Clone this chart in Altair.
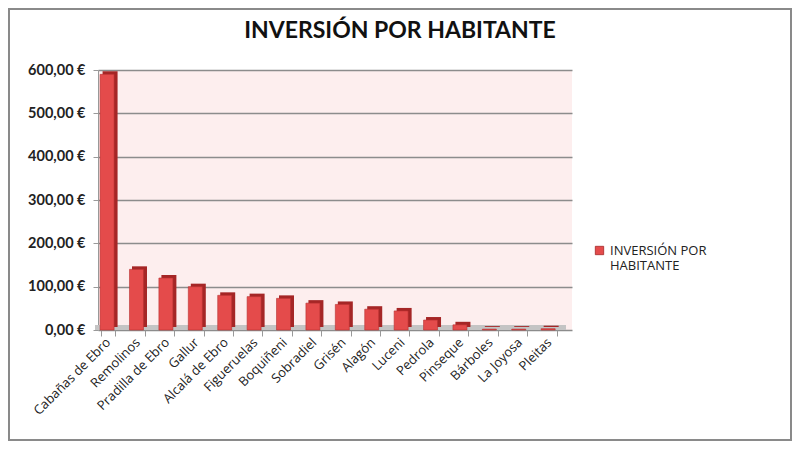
import altair as alt
import pandas as pd

municipios = ["Cabañas de Ebro", "Remolinos", "Pradilla de Ebro", "Gallur", "Alcalá de Ebro",
              "Figueruelas", "Boquiñeni", "Sobradiel", "Grisén", "Alagón", "Luceni",
              "Pedrola", "Pinseque", "Bárboles", "La Joyosa", "Pleitas"]
inversion = [590, 140, 120, 100, 80, 77, 73, 62, 59, 48, 44, 23, 12, 2, 2, 3]
serie = "INVERSIÓN POR HABITANTE"

df = pd.DataFrame({"municipio": municipios, "valor": inversion, "serie": serie})

W, H = 474, 260

x = alt.X("municipio:N", sort=municipios, title=None,
          scale=alt.Scale(paddingInner=0.5, paddingOuter=0.31, align=0.15),
          axis=alt.Axis(labelAngle=-45, labelAlign="right", labelBaseline="middle",
                        labelFont="Open Sans", labelFontSize=13, labelColor="#222",
                        labelPadding=4, domain=False, ticks=True, tickBand="extent",
                        tickColor="#999", tickSize=6, grid=False))
y = alt.Y("valor:Q", title=None,
          scale=alt.Scale(domain=[0, 600], nice=False),
          axis=alt.Axis(values=[0, 100, 200, 300, 400, 500, 600],
                        labelExpr="replace(format(datum.value, '.2f'), '.', ',') + ' €'",
                        labelFont="Lato", labelFontWeight="bold", labelFontSize=14.5,
                        labelColor="#222", labelPadding=8, domain=True, domainColor="#999",
                        ticks=True, tickColor="#999", tickSize=5,
                        grid=True, gridColor="#8c8c8c", gridWidth=1.4))

side = alt.Chart(df).mark_bar(size=15, xOffset=2, yOffset=-3, color="#a52626").encode(
    x=x, y=y)
front = alt.Chart(df).mark_bar(size=14, xOffset=-1, stroke="#b83030", strokeWidth=0.6).encode(
    x=x, y=y,
    color=alt.Color("serie:N", scale=alt.Scale(range=["#e44b4b"]), title=None,
                    legend=alt.Legend(orient="none", legendX=W + 21, legendY=174,
                                      symbolType="square", symbolSize=70,
                                      symbolStrokeColor="#a52626", symbolStrokeWidth=0.8,
                                      labelFont="Open Sans", labelFontSize=13,
                                      labelColor="#222", labelLimit=300,
                                      labelExpr="['INVERSIÓN POR', 'HABITANTE']")))

floor = alt.Chart(df).mark_rect(color="#c4c4c4").encode(
    x=alt.value(-3), x2=alt.value(W - 6), y=alt.value(H - 5), y2=alt.value(H))
border = alt.Chart(df).mark_rect(fill=None, stroke="#8a8a8a", strokeWidth=1.2).encode(
    x=alt.value(-89), x2=alt.value(W + 219), y=alt.value(-61), y2=alt.value(H + 110))
title = alt.Chart(pd.DataFrame({"t": [serie]})).mark_text(
    font="Lato", fontSize=23, fontWeight="bold", color="#111", align="center",
    baseline="alphabetic").encode(text="t:N", x=alt.value(302), y=alt.value(-32))

chart = alt.layer(floor, side, front, border, title).properties(
    width=W, height=H,
    autosize=alt.AutoSizeParams(type="none"),
    padding={"left": 90, "top": 62, "right": 220, "bottom": 111},
    background="white",
).configure_view(fill="#fdeeee", stroke=None)

chart.save("out.html", embed_options={"renderer": "svg", "actions": False})
